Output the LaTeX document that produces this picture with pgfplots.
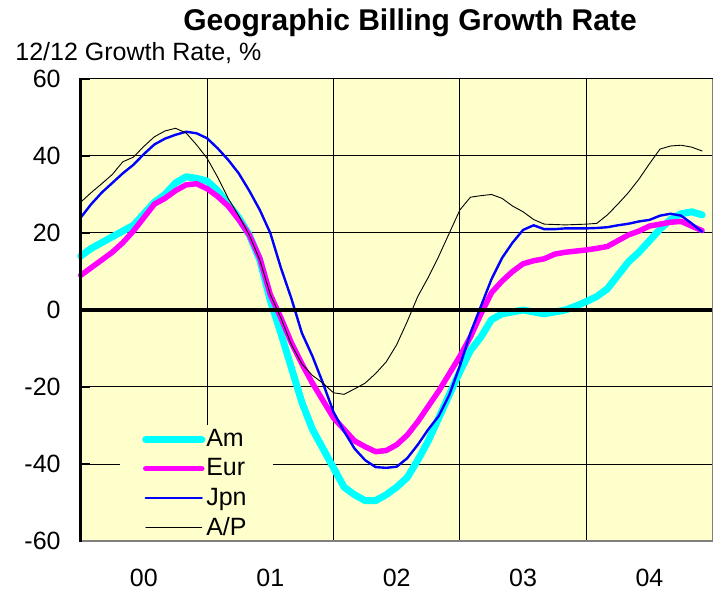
\documentclass[border=0pt]{standalone}
\usepackage{pgfplots}
\pgfplotsset{compat=1.18}
\usepackage{pgfplotstable}
\usepackage{fontspec}
\setmainfont{Liberation Sans}
\definecolor{bgyellow}{HTML}{FFFFCC}
\definecolor{amc}{HTML}{00FFFF}
\definecolor{eurc}{HTML}{FF00FF}
\definecolor{jpnc}{HTML}{0000FF}
\definecolor{framegray}{HTML}{808080}
\pgfplotstableread{
m am eur jpn ap
0 14 9 24 28
1 16 11 27.5 30.5
2 17.5 13 30.5 32.8
3 19 15 33 35.2
4 20.5 17.5 35.5 38.5
5 22 20.5 37.7 39.7
6 25 24 40.5 42.5
7 28 27.5 43 45
8 30 29 44.5 46.5
9 33 31 45.5 47.2
10 34.6 32.5 46.3 46
11 34.2 32.8 45.9 42.9
12 33.5 31.5 44.6 39.4
13 31 29.5 42 34.5
14 27.5 27 39 29
15 24 23.5 35.5 24.5
16 19.5 19.5 31 19.5
17 13 13.5 26 13
18 2.5 4 20 4
19 -6 -2 11 -2
20 -15 -8.5 3 -9
21 -24 -14 -6 -14
22 -31 -19 -12 -17
23 -36 -23.5 -19 -19
24 -41 -28 -26.5 -21.5
25 -46 -31 -31.5 -21.9
26 -48 -34 -36 -20.5
27 -49.5 -35.5 -39 -19
28 -49.5 -36.8 -40.8 -16.5
29 -48 -36.5 -41 -13.5
30 -46 -35 -40.7 -9
31 -43.5 -32.5 -38.5 -3
32 -39 -29 -35 3.5
33 -34 -25 -31 8.5
34 -28 -21 -27.5 14
35 -22 -16.5 -22 20
36 -16 -12 -14.5 26
37 -10.5 -7 -6 29.3
38 -7 -1 1 29.7
39 -2.5 4.5 8 30
40 -1 7.5 13.5 29
41 -0.5 10 17.5 27
42 0 12 20.8 25.5
43 -0.5 12.8 22 23.5
44 -1 13.3 21 22.3
45 -0.5 14.5 21 22.2
46 0 15 21.2 22.1
47 1 15.3 21.2 22.2
48 2.2 15.6 21.2 22.3
49 3.5 16 21.3 22.5
50 5.5 16.5 21.5 24.7
51 9 18 22 27.5
52 12.5 19.5 22.4 30.5
53 15 20.5 23 34
54 18 21.8 23.4 38
55 21 22.3 24.5 41.8
56 23.5 22.8 25 42.6
57 25 23 24.5 42.8
58 25.5 21.8 22.5 42.3
59 24.7 20.6 20.3 41.3
}\data
\begin{document}
\begin{tikzpicture}[font=\fontsize{12.5}{15}\selectfont]
\begin{axis}[
  name=ax,
  at={(0,0)}, anchor=south west,
  scale only axis, width=316pt, height=231pt,
  xmin=0, xmax=60, ymin=-60, ymax=60,
  clip=false,
  axis background/.style={fill=bgyellow},
  axis line style={draw=none},
  xtick={6,18,30,42,54}, xticklabels={00,01,02,03,04},
  xtick style={draw=none},
  extra x ticks={12,24,36,48}, extra x tick labels={},
  extra x tick style={xmajorgrids=true, major tick length=0pt},
  ytick={-60,-40,-20,0,20,40,60},
  yticklabels={-60,-40,-20,0,20,40,60},
  ytick pos=left,
  ymajorgrids,
  grid style={black, line width=0.5pt},
  major tick length=4.5pt, tick align=inside,
  ytick style={black, line width=0.75pt},
  yticklabel style={inner sep=0pt, xshift=-9.85pt},
  xticklabel style={anchor=base, inner sep=0pt, yshift=-22.5pt},
  legend image code/.code={\path (0pt,0pt) -- (28pt,0pt);\draw[#1] (2pt,0pt) -- (24.5pt,0pt);},
  legend cell align=left,
  legend style={at={(0.062,0.251)}, anchor=north west, fill=bgyellow, draw=none,
    inner xsep=11pt, inner ysep=0pt, row sep=0.5pt, column sep=-1.5pt,
    font=\fontsize{12.5}{15}\selectfont},
  every axis plot/.append style={line cap=round, line join=round},
]
\addplot[color=amc, line width=3.5pt] table[x=m,y=am] {\data};
\addlegendentry{Am}
\addplot[color=eurc, line width=2.75pt] table[x=m,y=eur] {\data};
\addlegendentry{Eur}
\addplot[color=jpnc, line width=1.2pt] table[x=m,y=jpn] {\data};
\addlegendentry{Jpn}
\addplot[color=black, line width=0.45pt] table[x=m,y=ap] {\data};
\addlegendentry{A/P}
\draw[black, line width=2pt] (axis cs:0,0) -- (axis cs:60,0);
\end{axis}
\draw[framegray, line width=0.75pt] (ax.south west) -- (ax.south east) -- (ax.north east);
\draw[black, line width=0.5pt] (ax.north west) -- (ax.north east);
\draw[black, line width=1.5pt] ([yshift=-0.5pt]ax.south west) -- ([yshift=0.5pt]ax.north west);
\node[font=\fontsize{15}{18}\selectfont\bfseries, anchor=base] at (164.65pt,255pt) {Geographic Billing Growth Rate};
\node[anchor=base west, inner sep=0pt] at (-32.85pt,240pt) {12/12 Growth Rate, \%};
\pgfresetboundingbox
\path[use as bounding box] (-40.35pt,-24.5pt) rectangle (318.15pt,270.5pt);
\end{tikzpicture}
\end{document}
